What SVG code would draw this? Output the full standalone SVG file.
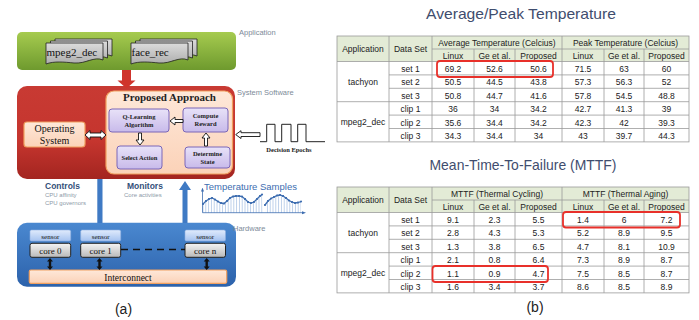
<svg xmlns="http://www.w3.org/2000/svg" width="699" height="320" viewBox="0 0 699 320">
<style>
.ser{font-family:"Liberation Serif","Times New Roman",serif;fill:#111}
.sb{font-family:"Liberation Serif","Times New Roman",serif;font-weight:bold;fill:#222}
.san{font-family:"Liberation Sans",Arial,sans-serif}
.lab{font-family:"Liberation Sans",Arial,sans-serif;font-size:7.5px;fill:#7d8b99}
.ctl{font-family:"Liberation Sans",Arial,sans-serif;font-size:8.5px;font-weight:bold;fill:#34507a}
.sm{font-family:"Liberation Sans",Arial,sans-serif;font-size:6px;fill:#8c9aa8}
.pur{fill:url(#gPurple);stroke:#7a66b8;stroke-width:1}
.pch{fill:url(#gPeach);stroke:#f0a060;stroke-width:1.2}
.sen{fill:url(#gSensor);stroke:#8fb0e0;stroke-width:0.6}
.core{fill:url(#gGray);stroke:#222;stroke-width:1}
.hol{fill:#fff;stroke:#111;stroke-width:0.9}
.dbl{fill:#111}
.title{font-family:"Liberation Sans",Arial,sans-serif;font-size:15px;fill:#3f4d6e}
.th{font-family:"Liberation Sans",Arial,sans-serif;font-size:8.5px;fill:#222}
.td{font-family:"Liberation Sans",Arial,sans-serif;font-size:8.5px;fill:#222;text-anchor:middle}
.gl{stroke:#9a9a9a;stroke-width:0.8;fill:none}
.hl{fill:none;stroke:#e8302a;stroke-width:1.8}
</style>
<defs>
<linearGradient id="gGreen" x1="0" y1="0" x2="0" y2="1"><stop offset="0" stop-color="#a6cb4f"/><stop offset="1" stop-color="#6e9a2e"/></linearGradient>
<linearGradient id="gRed" x1="0" y1="0" x2="0" y2="1"><stop offset="0" stop-color="#c83a33"/><stop offset="0.6" stop-color="#c5352e"/><stop offset="1" stop-color="#a32520"/></linearGradient>
<linearGradient id="gBlue" x1="0" y1="0" x2="0" y2="1"><stop offset="0" stop-color="#4a88d0"/><stop offset="1" stop-color="#2c62ab"/></linearGradient>
<linearGradient id="gPeach" x1="0" y1="0" x2="0" y2="1"><stop offset="0" stop-color="#fee8d9"/><stop offset="1" stop-color="#fbd2b8"/></linearGradient>
<linearGradient id="gPurple" x1="0" y1="0" x2="0" y2="1"><stop offset="0" stop-color="#e8e2f8"/><stop offset="1" stop-color="#c8baea"/></linearGradient>
<linearGradient id="gGray" x1="0" y1="0" x2="0" y2="1"><stop offset="0" stop-color="#f4f4f4"/><stop offset="1" stop-color="#b9b9b9"/></linearGradient>
<linearGradient id="gSensor" x1="0" y1="0" x2="0" y2="1"><stop offset="0" stop-color="#e0ebfc"/><stop offset="1" stop-color="#a6c3f0"/></linearGradient>
<linearGradient id="gDoc" x1="0" y1="0" x2="0" y2="1"><stop offset="0" stop-color="#dcdcdc"/><stop offset="1" stop-color="#adadad"/></linearGradient>
<path id="doc" d="M0,0 H57 V17 C48,13 40,21 28,20 C18,19 8,18 0,21 Z" fill="url(#gDoc)" stroke="#222" stroke-width="0.8"/>
<pattern id="vl" width="2.8" height="10" patternUnits="userSpaceOnUse"><line x1="1.4" y1="0" x2="1.4" y2="10" stroke="#8eaedb" stroke-width="0.6"/></pattern>
<marker id="dot" markerWidth="3" markerHeight="3" refX="1.5" refY="1.5" markerUnits="userSpaceOnUse"><circle cx="1.5" cy="1.5" r="1.1" fill="#3d6db0"/></marker>
<marker id="ax" markerWidth="4" markerHeight="4" refX="2" refY="2" orient="auto" markerUnits="userSpaceOnUse"><path d="M0,0.5 L4,2 L0,3.5 Z" fill="#3d6db0"/></marker>
<path id="dblv" d="M0,0 L-3,3.5 H-1.2 V8.5 H-3 L0,12 L3,8.5 H1.2 V3.5 H3 Z"/>
</defs>

<!-- Application layer -->
<g id="application">
<rect x="17" y="32" width="219" height="38" rx="5" fill="url(#gGreen)"/>
<text class="lab" x="239" y="34.5">Application</text>
</g>
<g id="mpeg2_dec">
<use href="#doc" x="55" y="39"/><use href="#doc" x="50.5" y="41"/><use href="#doc" x="46" y="43"/>
<text class="ser" x="46.5" y="55.5" font-size="11">mpeg2_dec</text>
</g>
<g id="face_rec">
<use href="#doc" x="140" y="39"/><use href="#doc" x="135.5" y="41"/><use href="#doc" x="131" y="43"/>
<text class="ser" x="131.5" y="55.5" font-size="11">face_rec</text>
</g>

<!-- System software -->
<g id="system_software">
<rect x="17" y="86" width="218" height="93" rx="10" fill="url(#gRed)"/>
<text class="lab" x="237" y="94.5">System Software</text>
</g>
<g id="operating_system">
<rect class="pch" x="24" y="122" width="61" height="25" rx="3"/>
<text class="ser" x="54.5" y="131.5" font-size="10" text-anchor="middle">Operating</text>
<text class="ser" x="54.5" y="143.5" font-size="10" text-anchor="middle">System</text>
</g>
<g id="proposed_approach">
<rect class="pch" x="106" y="91" width="126.5" height="83" rx="8" stroke-width="1.5"/>
<text class="sb" x="169.5" y="100.5" font-size="11" text-anchor="middle">Proposed Approach</text>
</g>
<g id="q_learning">
<rect class="pur" x="109" y="109" width="60" height="23" rx="3"/>
<text class="sb" x="139" y="118.5" font-size="6.5" text-anchor="middle">Q-Learning</text>
<text class="sb" x="139" y="126.5" font-size="6.5" text-anchor="middle">Algorithm</text>
</g>
<g id="compute_reward">
<rect class="pur" x="183" y="108" width="45" height="24" rx="3"/>
<text class="sb" x="205.5" y="117.5" font-size="6.5" text-anchor="middle">Compute</text>
<text class="sb" x="205.5" y="125.5" font-size="6.5" text-anchor="middle">Reward</text>
</g>
<g id="select_action">
<rect class="pur" x="117" y="146" width="45" height="23" rx="3"/>
<text class="sb" x="139.5" y="159.5" font-size="6.5" text-anchor="middle">Select Action</text>
</g>
<g id="determine_state">
<rect class="pur" x="185" y="147" width="45" height="21" rx="3"/>
<text class="sb" x="207.5" y="155.5" font-size="6.5" text-anchor="middle">Determine</text>
<text class="sb" x="207.5" y="163.5" font-size="6.5" text-anchor="middle">State</text>
</g>
<g id="decision_epochs">
<path d="M260,141.7 H266.7 V124.3 H275 V141.7 H281.7 V124.3 H291 V141.7 H297.7 V124.3 H306 V141.7 H325" fill="none" stroke="#222" stroke-width="1"/>
<text class="sb" x="289" y="151.5" font-size="6.5" text-anchor="middle">Decision Epochs</text>
</g>

<!-- Controls / monitors -->
<g id="controls">
<text class="ctl" x="45" y="189">Controls</text>
<text class="sm" x="45" y="197">CPU affinity</text>
<text class="sm" x="45" y="205">CPU governors</text>
</g>
<g id="monitors">
<text class="ctl" x="127" y="189">Monitors</text>
<text class="sm" x="124" y="197">Core activities</text>
</g>
<g id="temperature_samples">
<text class="san" x="204" y="189.5" font-size="9.5" fill="#3d6db0">Temperature Samples</text>
<path d="M203,204 L206,201 L209,199 L212,198 L215,199.5 L218,201.5 L221,203 L224,203.5 L227,201 L230,198 L233,196.5 L236,196 L239,196 L242,196.5 L245,199 L248,202 L251,203 L254,202 L257,199 L260,196 L262,194.5 L263,212.7 L203,212.7 Z" fill="url(#vl)"/>
<path d="M265,205 L268,201 L271,198.5 L274,197 L277,195.5 L280,195 L283,196 L286,198 L289,200.5 L292,202 L295,203 L298,202.5 L301,201.5 L301,212.7 L265,212.7 Z" fill="url(#vl)"/>
<polyline points="203,204 206,201 209,199 212,198 215,199.5 218,201.5 221,203 224,203.5 227,201 230,198 233,196.5 236,196 239,196 242,196.5 245,199 248,202 251,203 254,202 257,199 260,196 262,194.5" fill="none" stroke="#3d6db0" stroke-width="1.3" marker-start="url(#dot)" marker-mid="url(#dot)" marker-end="url(#dot)"/>
<polyline points="265,205 268,201 271,198.5 274,197 277,195.5 280,195 283,196 286,198 289,200.5 292,202 295,203 298,202.5 301,201.5" fill="none" stroke="#3d6db0" stroke-width="1.3" marker-start="url(#dot)" marker-mid="url(#dot)" marker-end="url(#dot)"/>
<line x1="202.5" y1="212.7" x2="202.5" y2="189.5" stroke="#3d6db0" stroke-width="0.8" marker-end="url(#ax)"/>
<line x1="202.5" y1="212.7" x2="304" y2="212.7" stroke="#3d6db0" stroke-width="0.8" marker-end="url(#ax)"/>
</g>

<!-- Hardware -->
<g id="hardware">
<rect x="17" y="222.7" width="219" height="64" rx="10" fill="url(#gBlue)"/>
<text class="lab" x="233" y="230.5">Hardware</text>
</g>
<g id="core0">
<rect class="sen" x="30" y="230" width="40.7" height="11" rx="1.5"/>
<text class="ser" x="50.3" y="238.5" font-size="7" text-anchor="middle">sensor</text>
<rect class="core" x="30" y="243.3" width="40.7" height="14" rx="2"/>
<text class="ser" x="50.3" y="253.5" font-size="9" text-anchor="middle">core 0</text>
</g>
<g id="core1">
<rect class="sen" x="80.7" y="230" width="40" height="11" rx="1.5"/>
<text class="ser" x="100.7" y="238.5" font-size="7" text-anchor="middle">sensor</text>
<rect class="core" x="80.7" y="243.3" width="40" height="14" rx="2"/>
<text class="ser" x="100.7" y="253.5" font-size="9" text-anchor="middle">core 1</text>
</g>
<g id="coren">
<rect class="sen" x="185" y="230" width="40.5" height="11" rx="1.5"/>
<text class="ser" x="205.2" y="238.5" font-size="7" text-anchor="middle">sensor</text>
<rect class="core" x="185" y="243.3" width="40.5" height="14" rx="2"/>
<text class="ser" x="205.2" y="253.5" font-size="9" text-anchor="middle">core n</text>
</g>
<g id="interconnect">
<rect class="pch" x="29.3" y="270" width="197.4" height="13.3" rx="1.5"/>
<text class="ser" x="128" y="280.5" font-size="9.5" text-anchor="middle">Interconnect</text>
</g>

<!-- Connectors -->
<g id="connectors">
<path d="M122,70 H131 V80.5 H135.5 L126.5,88.5 L117.5,80.5 H122 Z" fill="#cf342c"/>
<path class="hol" d="M85,135 L90,130.5 V133 H101 V130.5 L106,135 L101,139.5 V137 H90 V139.5 Z"/>
<path class="hol" d="M138.5,133 H141.5 V140 H144 L140,145 L136,140 H138.5 Z"/>
<path class="hol" d="M183,119.5 V122.5 H175 V125 L170,121 L175,117 V119.5 Z"/>
<path class="hol" d="M204.5,146 V138 H202 L206,133 L210,138 H207.5 V146 Z"/>
<path class="hol" d="M260,132.7 V136.5 H241 V138.5 L235.7,134.6 L241,130.7 V132.7 Z"/>
<rect x="97.3" y="179" width="5.2" height="44" fill="#3f7ac4"/>
<path d="M182.5,223 V190 H179 L185,181 L191,190 H187.5 V223 Z" fill="#3f7ac4"/>
<line x1="121" y1="249.5" x2="185" y2="249.5" stroke="#111" stroke-width="1.3" stroke-dasharray="7,5"/>
<use href="#dblv" class="dbl" x="50" y="258"/>
<use href="#dblv" class="dbl" x="99.5" y="258"/>
<use href="#dblv" class="dbl" x="206.7" y="258"/>
</g>

<text class="san" x="123.5" y="314" font-size="14" text-anchor="middle" fill="#222">(a)</text>

<!-- Table 1 -->
<g id="table_temperature">
<text class="title" x="521" y="19.3" text-anchor="middle" textLength="190" lengthAdjust="spacingAndGlyphs">Average/Peak Temperature</text>
<rect x="337" y="36" width="352" height="25.5" fill="#e3ebd6"/>
<rect class="gl" x="337" y="36" width="352" height="105.9"/>
<path class="gl" d="M432,49 H689 M337,61.5 H689 M389,74.9 H689 M389,88.3 H689 M337,101.7 H689 M389,115.1 H689 M389,128.5 H689 M389,36 V141.9 M432,36 V141.9 M562,36 V141.9 M474,49 V141.9 M515,49 V141.9 M604,49 V141.9 M644,49 V141.9"/>
<text class="td" y="51.5"><tspan x="363">Application</tspan><tspan x="410.5">Data Set</tspan></text>
<text class="td" y="45.5"><tspan x="497">Average Temperature (Celcius)</tspan><tspan x="625.5">Peak Temperature (Celcius)</tspan></text>
<text class="td" y="59"><tspan x="453">Linux</tspan><tspan x="494.5">Ge et al.</tspan><tspan x="538.5">Proposed</tspan><tspan x="583">Linux</tspan><tspan x="624">Ge et al.</tspan><tspan x="666.5">Proposed</tspan></text>
<text class="td" y="84.5"><tspan x="363">tachyon</tspan></text>
<text class="td" y="124.8"><tspan x="363">mpeg2_dec</tspan></text>
<text class="td" y="72"><tspan x="410.5">set 1</tspan><tspan x="453">69.2</tspan><tspan x="494.5">52.6</tspan><tspan x="538.5">50.6</tspan><tspan x="583">71.5</tspan><tspan x="624">63</tspan><tspan x="666.5">60</tspan></text>
<text class="td" y="85.4"><tspan x="410.5">set 2</tspan><tspan x="453">50.5</tspan><tspan x="494.5">44.5</tspan><tspan x="538.5">43.8</tspan><tspan x="583">57.3</tspan><tspan x="624">56.3</tspan><tspan x="666.5">52</tspan></text>
<text class="td" y="98.8"><tspan x="410.5">set 3</tspan><tspan x="453">50.8</tspan><tspan x="494.5">44.7</tspan><tspan x="538.5">41.6</tspan><tspan x="583">57.8</tspan><tspan x="624">54.5</tspan><tspan x="666.5">48.8</tspan></text>
<text class="td" y="112.2"><tspan x="410.5">clip 1</tspan><tspan x="453">36</tspan><tspan x="494.5">34</tspan><tspan x="538.5">34.2</tspan><tspan x="583">42.7</tspan><tspan x="624">41.3</tspan><tspan x="666.5">39</tspan></text>
<text class="td" y="125.6"><tspan x="410.5">clip 2</tspan><tspan x="453">35.6</tspan><tspan x="494.5">34.4</tspan><tspan x="538.5">34.2</tspan><tspan x="583">42.3</tspan><tspan x="624">42</tspan><tspan x="666.5">39.3</tspan></text>
<text class="td" y="139"><tspan x="410.5">clip 3</tspan><tspan x="453">34.3</tspan><tspan x="494.5">34.4</tspan><tspan x="538.5">34</tspan><tspan x="583">43</tspan><tspan x="624">39.7</tspan><tspan x="666.5">44.3</tspan></text>
<rect class="hl" x="437" y="61" width="116" height="16" rx="3"/>
</g>

<!-- Table 2 -->
<g id="table_mttf">
<text class="title" x="523" y="170" text-anchor="middle" textLength="187" lengthAdjust="spacingAndGlyphs">Mean-Time-To-Failure (MTTF)</text>
<g transform="translate(0,151)">
<rect x="337" y="36" width="352" height="25.5" fill="#e3ebd6"/>
<rect class="gl" x="337" y="36" width="352" height="105.9"/>
<path class="gl" d="M432,49 H689 M337,61.5 H689 M389,74.9 H689 M389,88.3 H689 M337,101.7 H689 M389,115.1 H689 M389,128.5 H689 M389,36 V141.9 M432,36 V141.9 M562,36 V141.9 M474,49 V141.9 M515,49 V141.9 M604,49 V141.9 M644,49 V141.9"/>
<text class="td" y="51.5"><tspan x="363">Application</tspan><tspan x="410.5">Data Set</tspan></text>
<text class="td" y="45.5"><tspan x="497">MTTF (Thermal Cycling)</tspan><tspan x="625.5">MTTF (Thermal Aging)</tspan></text>
<text class="td" y="59"><tspan x="453">Linux</tspan><tspan x="494.5">Ge et al.</tspan><tspan x="538.5">Proposed</tspan><tspan x="583">Linux</tspan><tspan x="624">Ge et al.</tspan><tspan x="666.5">Proposed</tspan></text>
<text class="td" y="84.5"><tspan x="363">tachyon</tspan></text>
<text class="td" y="124.8"><tspan x="363">mpeg2_dec</tspan></text>
<text class="td" y="72"><tspan x="410.5">set 1</tspan><tspan x="453">9.1</tspan><tspan x="494.5">2.3</tspan><tspan x="538.5">5.5</tspan><tspan x="583">1.4</tspan><tspan x="624">6</tspan><tspan x="666.5">7.2</tspan></text>
<text class="td" y="85.4"><tspan x="410.5">set 2</tspan><tspan x="453">2.8</tspan><tspan x="494.5">4.3</tspan><tspan x="538.5">5.3</tspan><tspan x="583">5.2</tspan><tspan x="624">8.9</tspan><tspan x="666.5">9.5</tspan></text>
<text class="td" y="98.8"><tspan x="410.5">set 3</tspan><tspan x="453">1.3</tspan><tspan x="494.5">3.8</tspan><tspan x="538.5">6.5</tspan><tspan x="583">4.7</tspan><tspan x="624">8.1</tspan><tspan x="666.5">10.9</tspan></text>
<text class="td" y="112.2"><tspan x="410.5">clip 1</tspan><tspan x="453">2.1</tspan><tspan x="494.5">0.8</tspan><tspan x="538.5">6.4</tspan><tspan x="583">7.3</tspan><tspan x="624">8.9</tspan><tspan x="666.5">8.7</tspan></text>
<text class="td" y="125.6"><tspan x="410.5">clip 2</tspan><tspan x="453">1.1</tspan><tspan x="494.5">0.9</tspan><tspan x="538.5">4.7</tspan><tspan x="583">7.5</tspan><tspan x="624">8.5</tspan><tspan x="666.5">8.7</tspan></text>
<text class="td" y="139"><tspan x="410.5">clip 3</tspan><tspan x="453">1.6</tspan><tspan x="494.5">3.4</tspan><tspan x="538.5">3.7</tspan><tspan x="583">8.6</tspan><tspan x="624">8.5</tspan><tspan x="666.5">8.9</tspan></text>
<rect class="hl" x="563" y="61" width="117" height="15.5" rx="3"/>
<rect class="hl" x="432.5" y="115" width="115.5" height="16" rx="3"/>
</g>
</g>

<text class="san" x="535" y="312" font-size="14" text-anchor="middle" fill="#222">(b)</text>
</svg>
